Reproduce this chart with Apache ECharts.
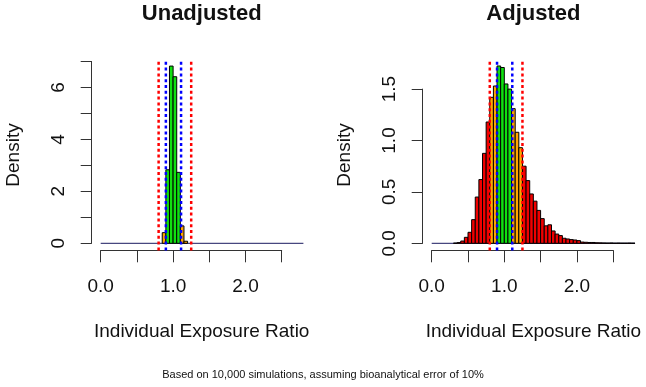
<!DOCTYPE html>
<html>
<head>
<meta charset="utf-8">
<script src="https://cdn.jsdelivr.net/npm/echarts@6/dist/echarts.min.js"></script>
<style>
  html, body { margin: 0; padding: 0; background: #fff; }
  #main { width: 646px; height: 387px; }
</style>
</head>
<body>
<div id="main"></div>
<script>
// histogram bins (width 0.05), data span of the breaks
const binWidth = 0.05;
const histRange = [0, 2.8];

// Unadjusted: densities of the non-empty bins, first bin starts at 0.85
const unadjStart = 0.85;
const unadjDensity = [0.41, 2.83, 6.82, 6.41, 2.73, 0.67, 0.08];

// Adjusted: densities from 0.30 upwards
const adjStart = 0.30;
const adjDensity = [
  0.002, 0.007, 0.022, 0.058, 0.107, 0.23, 0.45, 0.62, 0.875, 1.18,
  1.42, 1.53, 1.725, 1.71, 1.55, 1.50, 1.31, 1.08, 0.93, 0.75,
  0.61, 0.48, 0.41, 0.32, 0.24, 0.17, 0.18, 0.12, 0.09, 0.075,
  0.049, 0.042, 0.036, 0.032, 0.026, 0.012, 0.01, 0.008, 0.008, 0.005,
  0.004, 0.003, 0.002, 0.003, 0.001, 0.002, 0.001, 0.001, 0.002, 0.001
];

// acceptance limits (dotted lines)
const innerLimits = [0.9, 1.11];   // blue
const outerLimits = [0.8, 1.25];   // red

const panelTitles = ['Unadjusted', 'Adjusted'];
const xAxisTitle = 'Individual Exposure Ratio';
const yAxisTitle = 'Density';
const footnote = 'Based on 10,000 simulations, assuming bioanalytical error of 10%';

const FONT = '"Liberation Sans", Arial, sans-serif';
const AXIS_COLOR = '#333';

function binColor(x0, x1) {
  const mid = (x0 + x1) / 2;
  if (mid >= innerLimits[0] && mid <= innerLimits[1]) return '#10e010';
  if (mid >= outerLimits[0] && mid <= outerLimits[1]) return '#ffa500';
  return '#f00000';
}

function makeBins(start, dens) {
  return dens.map(function (d, i) {
    const x0 = start + i * binWidth;
    return [x0, x0 + binWidth, d];
  });
}

function histSeries(idx, bins) {
  return {
    type: 'custom',
    xAxisIndex: idx,
    yAxisIndex: idx,
    clip: false,
    silent: true,
    encode: { x: [0, 1], y: 2 },
    data: bins,
    renderItem: function (params, api) {
      const x0 = api.value(0), x1 = api.value(1), y = api.value(2);
      const p0 = api.coord([x0, y]);
      const p1 = api.coord([x1, 0]);
      return {
        type: 'rect',
        shape: { x: p0[0], y: p0[1], width: p1[0] - p0[0], height: p1[1] - p0[1] },
        style: { fill: binColor(x0, x1), stroke: '#000', lineWidth: 1 }
      };
    }
  };
}

// a straight segment between two data points, drawn through the axes' scales
function segmentSeries(idx, from, to, lineStyle) {
  return {
    type: 'custom',
    xAxisIndex: idx,
    yAxisIndex: idx,
    clip: false,
    silent: true,
    encode: { x: [0, 2], y: [1, 3] },
    data: [[from[0], from[1], to[0], to[1]]],
    renderItem: function (params, api) {
      const a = api.coord([api.value(0), api.value(1)]);
      const b = api.coord([api.value(2), api.value(3)]);
      return {
        type: 'line',
        shape: { x1: a[0], y1: a[1], x2: b[0], y2: b[1] },
        style: lineStyle
      };
    }
  };
}

function baseSeries(idx) {
  return segmentSeries(idx, [histRange[0], 0], [histRange[1], 0],
    { stroke: '#1a1a60', lineWidth: 1 });
}

function limitSeries(idx, x, color, ymax) {
  // spans the R plot region (range extended by 4%)
  return segmentSeries(idx, [x, -0.04 * ymax], [x, 1.04 * ymax],
    { stroke: color, lineWidth: 2.5, lineDash: [3, 2.8], lineCap: 'butt' });
}

function xAxisOpt(idx) {
  return {
    gridIndex: idx,
    type: 'value',
    min: 0, max: 2.5, interval: 0.5,
    offset: 7,
    axisLine: { show: true, onZero: false, lineStyle: { color: AXIS_COLOR, width: 1 } },
    axisTick: { show: true, length: 12, lineStyle: { color: AXIS_COLOR, width: 1 } },
    axisLabel: {
      margin: 27, fontSize: 19, fontFamily: FONT, color: '#111',
      formatter: function (v) { return Number.isInteger(v) ? v.toFixed(1) : ''; }
    },
    splitLine: { show: false }
  };
}

function yAxisOpt(idx, max, interval, fmt) {
  return {
    gridIndex: idx,
    type: 'value',
    min: 0, max: max, interval: interval,
    offset: 9,
    axisLine: { show: true, onZero: false, lineStyle: { color: AXIS_COLOR, width: 1 } },
    axisTick: { show: true, length: 11, lineStyle: { color: AXIS_COLOR, width: 1 } },
    axisLabel: {
      rotate: 90, margin: 23, fontSize: 19, fontFamily: FONT, color: '#111',
      formatter: fmt
    },
    splitLine: { show: false }
  };
}

const unadjBins = makeBins(unadjStart, unadjDensity);
const adjBins = makeBins(adjStart, adjDensity);
const unadjMax = Math.max.apply(null, unadjDensity);
const adjMax = Math.max.apply(null, adjDensity);

function text(str, x, y, size, opts) {
  return Object.assign({
    type: 'text', x: x, y: y, silent: true,
    style: {
      text: str, fill: '#111', align: 'center', verticalAlign: 'middle',
      font: (opts && opts.bold ? 'bold ' : '') + size + 'px ' + FONT
    }
  }, opts && opts.rotation ? { rotation: opts.rotation } : {});
}

const chart = echarts.init(document.getElementById('main'));
chart.setOption({
  animation: false,
  backgroundColor: '#fff',
  grid: [
    { left: 100.7, top: 61.4, width: 181, height: 181.9, outerBoundsMode: 'none' },
    { left: 431.7, top: 89.1, width: 181.5, height: 154.2, outerBoundsMode: 'none' }
  ],
  xAxis: [xAxisOpt(0), xAxisOpt(1)],
  yAxis: [
    yAxisOpt(0, 7, 1, function (v) { return (v % 2 === 0 && v < 7) ? String(v) : ''; }),
    yAxisOpt(1, 1.5, 0.5, function (v) { return v.toFixed(1); })
  ],
  series: [
    baseSeries(0),
    histSeries(0, unadjBins),
    limitSeries(0, outerLimits[0], '#ff0000', unadjMax),
    limitSeries(0, innerLimits[0], '#0000ff', unadjMax),
    limitSeries(0, innerLimits[1], '#0000ff', unadjMax),
    limitSeries(0, outerLimits[1], '#ff0000', unadjMax),
    baseSeries(1),
    histSeries(1, adjBins),
    limitSeries(1, outerLimits[0], '#ff0000', adjMax),
    limitSeries(1, innerLimits[0], '#0000ff', adjMax),
    limitSeries(1, innerLimits[1], '#0000ff', adjMax),
    limitSeries(1, outerLimits[1], '#ff0000', adjMax)
  ],
  graphic: [
    text(panelTitles[0], 201.7, 14, 22, { bold: true }),
    text(panelTitles[1], 533.4, 14, 22, { bold: true }),
    text(yAxisTitle, 14, 155, 19, { rotation: Math.PI / 2 }),
    text(yAxisTitle, 345, 155, 19, { rotation: Math.PI / 2 }),
    text(xAxisTitle, 201.7, 332, 19),
    text(xAxisTitle, 533.4, 332, 19),
    text(footnote, 323, 375, 11)
  ]
});
</script>
</body>
</html>
